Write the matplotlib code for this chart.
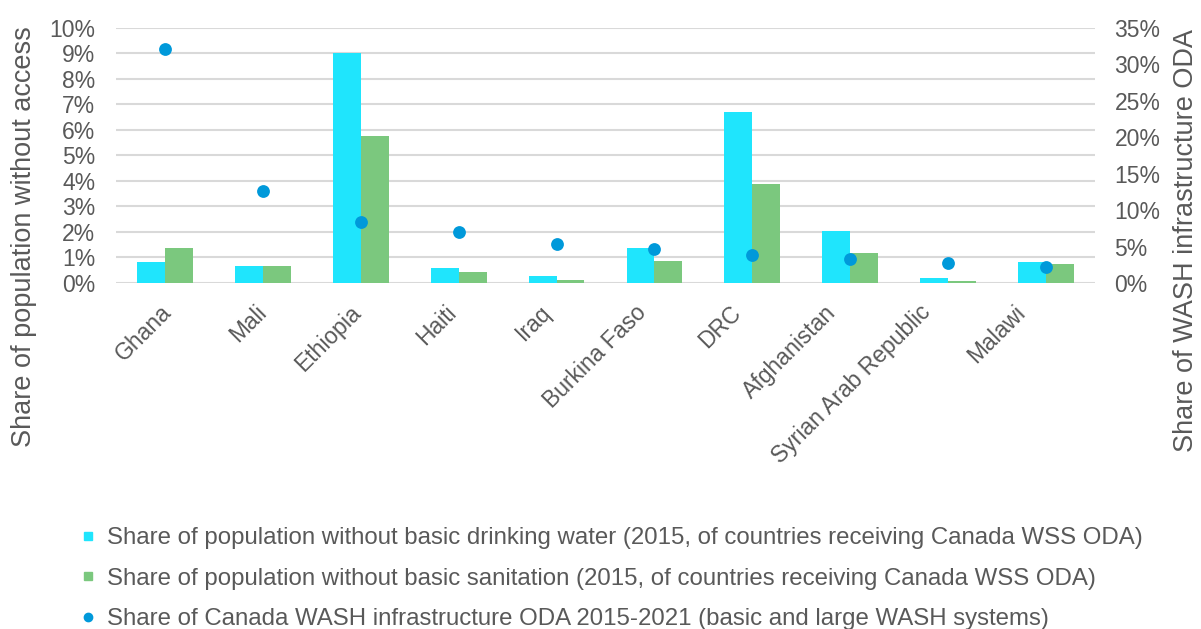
import matplotlib
matplotlib.use("Agg")
import matplotlib.pyplot as plt
import numpy as np
from matplotlib.lines import Line2D
from matplotlib.ticker import PercentFormatter
from matplotlib.transforms import ScaledTranslation

plt.rcParams['font.family'] = ['Liberation Sans', 'DejaVu Sans']

countries = ["Ghana", "Mali", "Ethiopia", "Haiti", "Iraq", "Burkina Faso", "DRC",
             "Afghanistan", "Syrian Arab Republic", "Malawi"]
water = [0.82, 0.68, 9.03, 0.57, 0.27, 1.38, 6.72, 2.04, 0.18, 0.84]
sanitation = [1.37, 0.68, 5.76, 0.42, 0.12, 0.88, 3.90, 1.18, 0.08, 0.73]
oda_share = [32.1, 12.6, 8.4, 6.95, 5.4, 4.67, 3.8, 3.25, 2.75, 2.2]

left_ticks = list(range(0, 11))
right_ticks = list(range(0, 36, 5))

label_water = "Share of population without basic drinking water (2015, of countries receiving Canada WSS ODA)"
label_san = "Share of population without basic sanitation (2015, of countries receiving Canada WSS ODA)"
label_oda = "Share of Canada WASH infrastructure ODA 2015-2021 (basic and large WASH systems)"

C_WATER = "#1FE5FD"
C_SAN = "#7BC87E"
C_DOT = "#0099DA"
C_TEXT = "#595959"
C_GRID = "#D9D9D9"

W, H = 1201, 629
fig = plt.figure(figsize=(W / 100, H / 100), dpi=100)
ax_l, ax_r, ax_t, ax_b = 116, 1095, 28, 283
ax = fig.add_axes([ax_l / W, 1 - ax_b / H, (ax_r - ax_l) / W, (ax_b - ax_t) / H])

x = np.arange(len(countries))
bw = 0.285
ax.bar(x - bw / 2, water, width=bw, color=C_WATER, zorder=2)
ax.bar(x + bw / 2, sanitation, width=bw, color=C_SAN, zorder=2)
ax.set_xlim(-0.5, len(countries) - 0.5)
ax.set_ylim(0, 10)
ax.set_yticks(left_ticks)
ax.yaxis.set_major_formatter(PercentFormatter(decimals=0))
ax.grid(axis='y', color=C_GRID, linewidth=1.5, zorder=0)
ax.set_axisbelow(True)
for s in ax.spines.values():
    s.set_visible(False)
ax.tick_params(axis='y', length=0, labelsize=16.5, labelcolor=C_TEXT, pad=15)
ax.tick_params(axis='x', length=0, labelsize=16.5, labelcolor=C_TEXT, pad=13)
ax.set_xticks(x)
ax.set_xticklabels(countries, rotation=45, ha='right', va='top', rotation_mode='anchor')
# Excel-like slight drift of rotated category labels
for i, lbl in enumerate(ax.get_xticklabels()):
    dx = (-5 - 3.0 * i) / 100
    lbl.set_transform(lbl.get_transform() + ScaledTranslation(dx, 0, fig.dpi_scale_trans))

ax2 = ax.twinx()
ax2.scatter(x, oda_share, s=85, color=C_DOT, zorder=3, linewidths=0)
ax2.set_ylim(0, 35)
ax2.set_yticks(right_ticks)
ax2.yaxis.set_major_formatter(PercentFormatter(decimals=0))
for s in ax2.spines.values():
    s.set_visible(False)
ax2.tick_params(axis='y', length=0, labelsize=16.5, labelcolor=C_TEXT, pad=14)

fig.text(24 / W, 1 - 237 / H, "Share of population without access", rotation=90,
         ha='center', va='center', fontsize=19.5, color=C_TEXT)
fig.text(1186 / W, 1 - 240 / H, "Share of WASH infrastructure ODA", rotation=90,
         ha='center', va='center', fontsize=19.5, color=C_TEXT)

handles = [
    Line2D([], [], marker='s', linestyle='none', markersize=6, color=C_WATER),
    Line2D([], [], marker='s', linestyle='none', markersize=6, color=C_SAN),
    Line2D([], [], marker='o', linestyle='none', markersize=6, color=C_DOT),
]
fig.legend(handles, [label_water, label_san, label_oda], loc='upper left',
           bbox_to_anchor=(83 / W, 1 - 527 / H), frameon=False, fontsize=17.3,
           labelcolor=C_TEXT, handlelength=0.4, handletextpad=0.6, labelspacing=0.78,
           borderaxespad=0, borderpad=0)

fig.savefig("out.png", dpi=100)
